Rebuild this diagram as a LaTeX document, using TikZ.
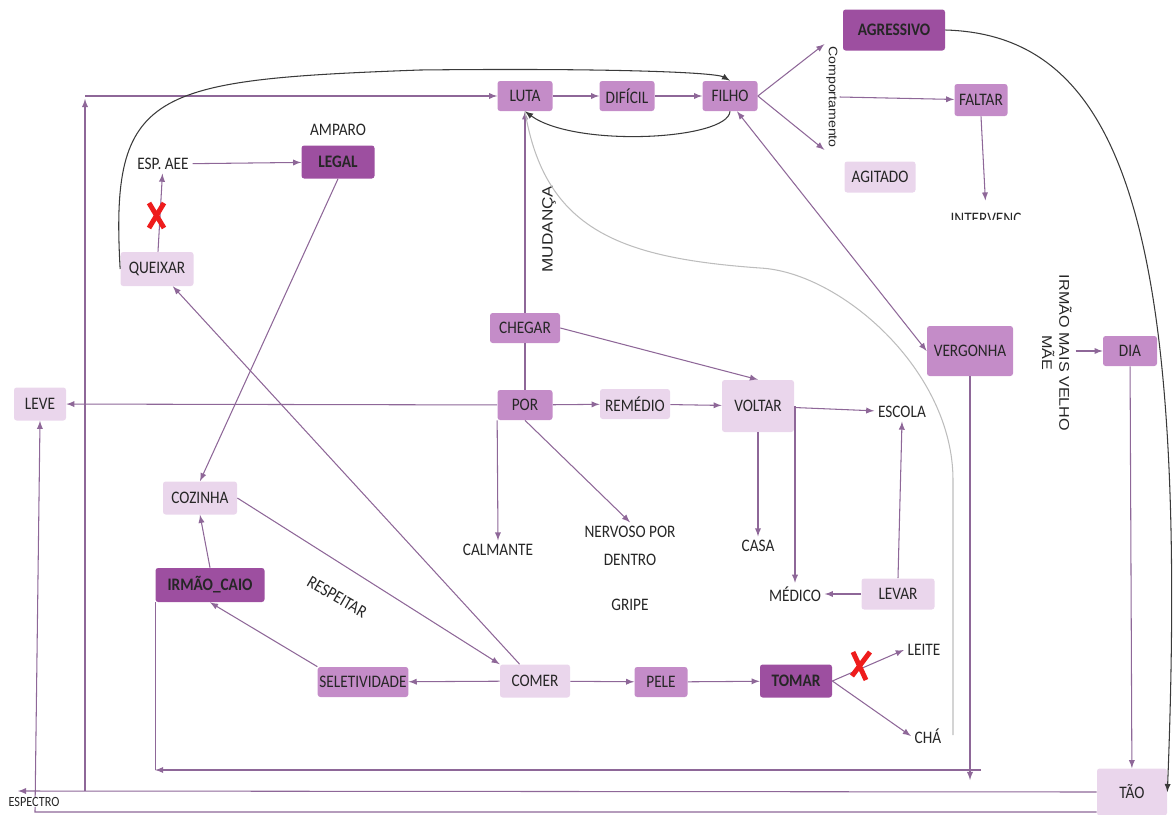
\documentclass[tikz,border=0pt]{standalone}
\usepackage{fontspec}
\setmainfont{Carlito}[FakeStretch=0.87]
\newfontfamily\arialfont{Liberation Sans}[FakeStretch=1.15]
\usepackage{tikz}
\tikzset{>=latex}
\usetikzlibrary{calc}
\definecolor{boxdark}{HTML}{9D4FA0}
\definecolor{boxmid}{HTML}{C48CC8}
\definecolor{boxlight}{HTML}{EAD6EC}
\definecolor{linkline}{HTML}{8E6798}
\definecolor{curveline}{HTML}{3A3A3A}
\definecolor{faintline}{HTML}{BDBDBD}
\definecolor{crossred}{HTML}{EE1C1C}
\tikzset{
  box/.style={rounded corners=1.5pt, inner sep=1pt, text=black!85, font=\fontsize{10}{11}\selectfont},
  dark/.style={box, fill=boxdark, font=\fontsize{10}{11}\selectfont\bfseries},
  mid/.style={box, fill=boxmid},
  light/.style={box, fill=boxlight},
  boxsize/.style 2 args={minimum width=#1*0.2mm, minimum height=#2*0.2mm},
  word/.style={inner sep=2pt, text=black!85, font=\fontsize{10}{11}\selectfont},
  link/.style={->, linkline, line width=0.6pt},
  cross/.style={crossred, line width=2.8pt},
}

\begin{document}
\begin{tikzpicture}[x=0.2mm, y=-0.2mm]
    \useasboundingbox (0,0) rectangle (1173,815);
    \node[dark, boxsize={102}{41}] (agressivo) at (894,30) {AGRESSIVO};
    \node[mid, boxsize={55}{30}] (luta) at (525,96) {LUTA};
    \node[mid, boxsize={55}{30}] (dificil) at (627,96) {DIFÍCIL};
    \node[mid, boxsize={55}{30}] (filho) at (730,96) {FILHO};
    \node[word] (amparo) at (338,130) {AMPARO};
    \node[dark, boxsize={73}{33}] (legal) at (338,162) {LEGAL};
    \node[word] (espaee) at (163,164) {ESP. AEE};
    \node[light, boxsize={73}{34}] (queixar) at (157,269) {QUEIXAR};
    \node[word, rotate=-90, inner sep=1pt, font=\arialfont\fontsize{7}{8}\selectfont] (comport) at (832,97) {Comportamento};
    \node[mid, boxsize={53}{32}] (faltar) at (981,100) {FALTAR};
    \node[light, boxsize={71}{31}] (agitado) at (880,177) {AGITADO};
    \begin{scope}
        \clip (930,200) rectangle (1050,219);
        \node[word, inner sep=0pt] (interv) at (986,220) {INTERVENÇ};
    \end{scope}
    \node[word, rotate=90, font=\arialfont\fontsize{8.5}{9}\selectfont] (mudanca) at (549,229) {MUDANÇA};
    \node[mid, boxsize={70}{30}] (chegar) at (525,328) {CHEGAR};
    \node[mid, boxsize={55}{30}] (por) at (525,405) {POR};
    \node[light, boxsize={70}{30}] (remedio) at (635,404) {REMÉDIO};
    \node[light, boxsize={72}{52}] (voltar) at (758,406) {VOLTAR};
    \node[word] (escola) at (902,412) {ESCOLA};
    \node[mid, boxsize={86}{50}] (vergonha) at (970,351) {VERGONHA};
    \node[word, rotate=-90, align=center, font=\arialfont\fontsize{8}{9.8}\selectfont] (irmao) at (1057,353) {IRMÃO MAIS VELHO\\MÃE};
    \node[mid, boxsize={54}{30}] (dia) at (1130,351) {DIA};
    \node[light, boxsize={52}{33}] (leve) at (40,404) {LEVE};
    \node[light, boxsize={74}{33}] (cozinha) at (200,498) {COZINHA};
    \node[word] (calmante) at (498,550) {CALMANTE};
    \node[word, align=center, font=\fontsize{10}{16}\selectfont] (nervoso) at (630,546) {NERVOSO POR\\DENTRO};
    \node[word] (gripe) at (630,605) {GRIPE};
    \node[word] (casa) at (758,546) {CASA};
    \node[word] (medico) at (795,594) {MÉDICO};
    \node[light, boxsize={73}{31}] (levar) at (898,594) {LEVAR};
    \node[dark, boxsize={109}{34}] (irmcaio) at (210,585) {IRMÃO\_CAIO};
    \node[word, rotate=-30] (respeitar) at (337,597) {RESPEITAR};
    \node[mid, boxsize={90}{30}] (selet) at (363,682) {SELETIVIDADE};
    \node[light, boxsize={70}{33}] (comer) at (535,681) {COMER};
    \node[mid, boxsize={53}{30}] (pele) at (661,682) {PELE};
    \node[dark, boxsize={72}{33}] (tomar) at (796,681) {TOMAR};
    \node[word] (leite) at (924,650) {LEITE};
    \node[word] (cha) at (928,736) {CHÁ};
    \node[light, boxsize={70}{47}] (tao) at (1132,792) {TÃO};
    \coordinate (faintEnd) at (953,735);
    \coordinate (vergEnd) at (970,780);
    \coordinate (bandR) at (981,770);
    \coordinate (espL) at (18,791);
    \coordinate (riseB) at (85,791);
    \coordinate (riseT) at (85,99);
    \coordinate (baseL) at (35,812);
    \draw[link] (luta) -- (dificil);
    \draw[link] (dificil) -- (filho);
    \draw[link] (espaee) -- (legal);
    \draw[link] (queixar) -- (espaee);
    \draw[link] (legal.south) -- (cozinha.north);
    \draw[link] (comer) -- (queixar);
    \draw[link] (cozinha.east) -- (comer.north west);
    \draw[link] (comer) -- (selet);
    \draw[link] (comer) -- (pele);
    \draw[link] (pele) -- (tomar);
    \draw[link] (selet.north west) -- (irmcaio.south);
    \draw[link] (irmcaio.north) -- (cozinha.south);
    \draw[link] (tomar.east) -- (leite.west);
    \draw[link] (tomar.east) -- (cha.west);
    \draw[link] (por) -- (leve);
    \draw[link] (por) -- (remedio);
    \draw[link] (remedio) -- (voltar);
    \draw[link] (chegar.east) -- (voltar.north);
    \draw[link, -] (por) -- (chegar);
    \draw[link] (chegar) -- (luta);
    \draw[link] (por.south west) -- (calmante.north);
    \draw[link] (por.south) -- (nervoso.north);
    \draw[link] (voltar) -- (escola);
    \draw[link] (voltar) -- (casa);
    \draw[link] (medico.north |- voltar.east) -- (medico.north);
    \draw[link] (levar) -- (medico);
    \draw[link] (levar.north) -- (escola.south);
    \draw[link, <->] ([xshift=1.4mm]filho.south) -- (vergonha.west);
    \draw[link] (filho.east) -- (comport.south west);
    \draw[link] (filho.east) -- (comport.south east);
    \draw[link] (comport.north) -- (faltar);
    \draw[link, shorten >=2.4mm] (faltar.south) -- (interv.north);
    \draw[link] (vergonha) -- (vergEnd);
    \draw[link] (bandR) -- (bandR -| irmcaio.south west);
    \draw[link, -] (irmcaio.south west) -- (bandR -| irmcaio.south west);
    \draw[link] (dia) -- (tao);
    \draw[link] (irmao.north |- dia.west) -- (dia.west);
    \draw[link] (tao.west) -- (espL);
    \draw[link] (riseB) -- (riseT);
    \draw[link] (riseT |- luta.west) -- (luta.west);
    \draw[link] (tao.south west |- baseL) -- (baseL) -- (leve.south);
    \draw[->, curveline, line width=0.6pt] (queixar.west) .. controls (110,90) and (150,80) .. (420,70) .. controls (600,68) and (715,72) .. (filho.north);
    \draw[->, curveline, line width=0.6pt] (filho.south) .. controls (728,140) and (575,148) .. (luta.south);
    \draw[->, curveline, line width=0.6pt] (agressivo.east) .. controls (1120,35) and (1190,220) .. (tao.east);
    \draw[faintline, line width=0.6pt] (luta.south) .. controls (545,230) and (620,258) .. (760,268) .. controls (840,272) and (953,370) .. (953,480) -- (faintEnd);
    \draw[cross] (149,203) -- (164,228) (164,203) -- (149,228);
    \draw[cross] (853,652) -- (866,680) (870,652) -- (852,676);
    \node[word, fill=white, inner sep=0.5pt, font=\fontsize{8}{9}\selectfont] (espectro) at (34,802) {ESPECTRO};
\end{tikzpicture}
\end{document}
